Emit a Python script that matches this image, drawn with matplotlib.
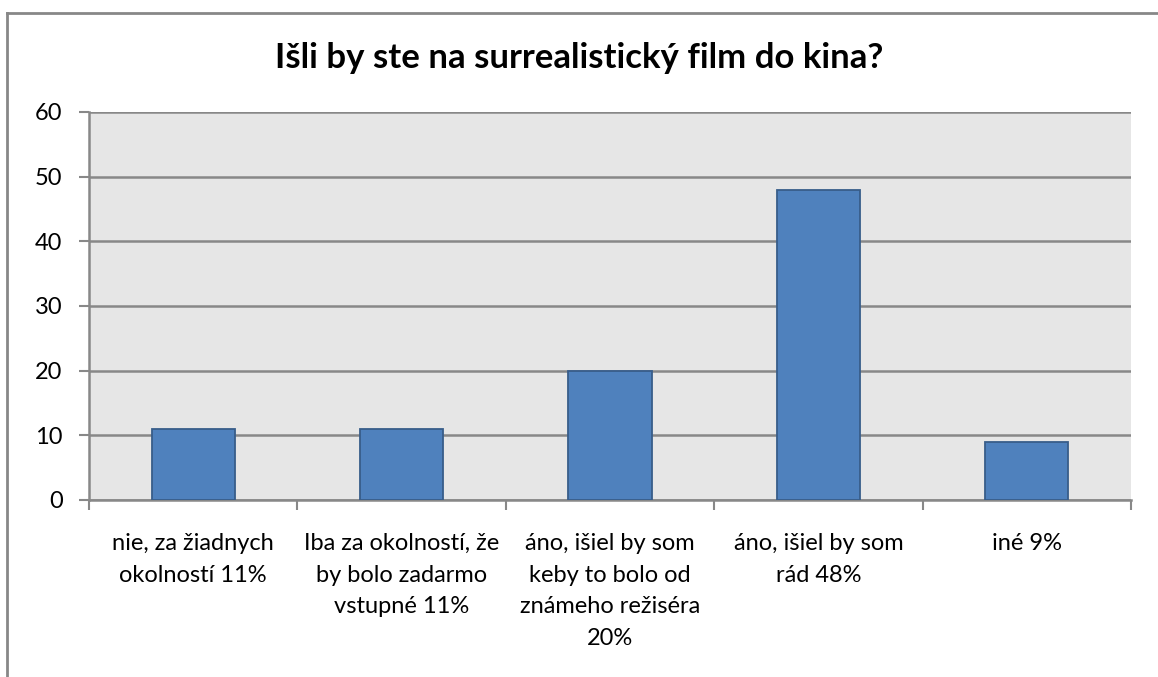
import matplotlib.pyplot as plt
import numpy as np
from matplotlib.lines import Line2D

# data
categories = ['nie, za žiadnych\nokolností 11%',
              'Iba za okolností, že\nby bolo zadarmo\nvstupné 11%',
              'áno, išiel by som\nkeby to bolo od\nznámeho režiséra\n20%',
              'áno, išiel by som\nrád 48%',
              'iné 9%']
values = [11, 11, 20, 48, 9]
yticks = [0, 10, 20, 30, 40, 50, 60]
title = 'Išli by ste na surrealistický film do kina?'

plt.rcParams['font.family'] = ['Lato', 'DejaVu Sans']

fig = plt.figure(figsize=(11.58, 6.77), dpi=100)
ax = fig.add_axes([89/1158, 1 - 500/677, (1131-89)/1158, (500-112)/677])

x = np.arange(len(values))
ax.bar(x, values, width=0.40, color='#4F81BD', edgecolor='#385D8A', linewidth=1.3, zorder=3)

ax.set_facecolor('#E6E6E6')
ax.set_xlim(-0.5, len(values) - 0.5)
ax.set_ylim(0, 60)
ax.set_yticks(yticks)
ax.yaxis.grid(True, color='#888888', linewidth=1.8, zorder=1)

ax.set_xticks(x)
ax.set_xticklabels(categories, fontsize=17, linespacing=1.62, va='top')
ax.set_xticks(np.arange(len(values) + 1) - 0.5, minor=True)
ax.tick_params(axis='x', which='major', length=0, pad=24)
ax.tick_params(axis='x', which='minor', length=7, color='#888888', width=1.5)
ax.tick_params(axis='y', length=7, color='#888888', width=1.5, labelsize=17, pad=12)

for s in ['top', 'right']:
    ax.spines[s].set_visible(False)
for s in ['left', 'bottom']:
    ax.spines[s].set_color('#888888')
    ax.spines[s].set_linewidth(1.8)

fig.text(0.5, 1 - 58/677, title, ha='center', va='center', fontsize=25, fontweight='bold')

# outer chart border (left and top visible)
fig.add_artist(Line2D([7/1158, 7/1158], [0, 1 - 13/677], color='#878787', linewidth=2))
fig.add_artist(Line2D([7/1158, 1], [1 - 13/677, 1 - 13/677], color='#878787', linewidth=2))

fig.savefig('out.png', dpi=100, facecolor='white')
